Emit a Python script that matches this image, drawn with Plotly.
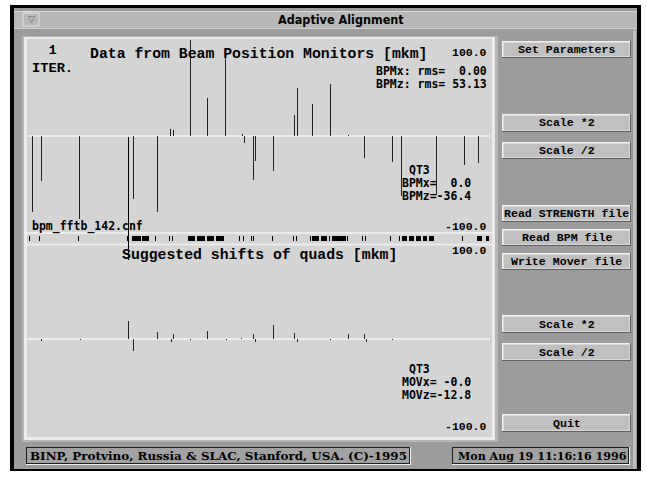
import plotly.graph_objects as go

W, H = 646, 477

# ---------------- data (positions along the line, values in mkm) ----------------
bpm_s = [3.7, 13, 51, 105, 129, 142, 145, 162, 179, 197, 214, 216, 225, 227, 245,
         266, 269, 284, 302, 320, 336, 364, 373, 408, 436, 450]
bpm_z = [-79, -47, -86, -66, -79, 7, 6, 120, 40, 83, 2, -7, -46, -26, -36,
         22, 50, 33, 54, 1.5, -23, -27, -63, -61, -30, -28]

quad_s = [13, 52, 100, 105, 129, 143, 145, 162, 179, 198, 213, 225, 227, 245,
          266, 269, 302, 320, 336, 338, 364]
quad_z = [-2, -1, 19, -13, 7, -3, 5, -1, 8.5, -1, 1.5, 5, -3, 15,
          6, -3, -1, 5, 5, -3, -1]

# beamline element layout strip: thin elements (positions) and long magnets (start / end)
thin_s = [1, 11, 50, 99, 127, 141, 144, 211, 215, 223, 225, 244, 265, 268, 282,
          301, 319, 334, 337, 362, 371, 405, 434]
mag_from = [103.5, 113.5, 159, 168, 178, 187, 283, 292, 303, 373, 380, 387, 394, 400, 448, 457]
mag_to = [112, 120.5, 166.5, 176.5, 185.5, 195, 290.5, 298.5, 317, 378.5, 385.5, 392.5, 398.5, 404, 453, 460]

cursor_s = 100
y_range = [-100, 100]
x_range = [-0.5, 461.5]


def X(px):
    return px / W


def Y(py):
    return 1 - py / H


shapes = []
annotations = []


def rect(x0, y0, x1, y1, fill, line=None, lw=0, layer="below"):
    shapes.append(dict(type="rect", xref="paper", yref="paper",
                       x0=X(x0), x1=X(x1), y0=Y(y1), y1=Y(y0),
                       fillcolor=fill, layer=layer,
                       line=dict(color=line or fill, width=lw)))


def hline(x0, x1, y, color, w=1, layer="below"):
    shapes.append(dict(type="line", xref="paper", yref="paper",
                       x0=X(x0), x1=X(x1), y0=Y(y), y1=Y(y),
                       line=dict(color=color, width=w), layer=layer))


def vline(x, y0, y1, color, w=1, layer="below"):
    shapes.append(dict(type="line", xref="paper", yref="paper",
                       x0=X(x), x1=X(x), y0=Y(y0), y1=Y(y1),
                       line=dict(color=color, width=w), layer=layer))


def txt(text, x, y, size, family="Liberation Mono", xanchor="left", bold=True, color="black", align="left"):
    t = text.replace(" ", "\u00a0")
    if bold:
        t = "<b>" + t + "</b>"
    annotations.append(dict(text=t, x=X(x), y=Y(y), xref="paper", yref="paper",
                            xanchor=xanchor, yanchor="middle", showarrow=False,
                            borderpad=0, align=align,
                            font=dict(family=family, size=size, color=color)))


BODY = "#9c9c9c"
PANEL = "#d4d4d4"

# window frame
rect(10, 5, 641, 471, "black")
rect(14, 8, 637, 469, BODY)
vline(634.5, 30, 469, "#bdbdbd", 3)
# title bar
rect(14, 11, 637, 28, "#b9b9b9")
hline(14, 637, 11.5, "#dadada", 1)
hline(14, 637, 28.5, "#d0d0d0", 1)
rect(23, 13, 39, 26, "#b9b9b9", "#e2e2e2", 1)
txt("\u25bd", 31, 19.5, 9, family="DejaVu Sans", xanchor="center", bold=False, color="#6a6a6a")
txt("Adaptive Alignment", 341, 19.5, 12.5, family="DejaVu Sans Condensed, DejaVu Sans",
    xanchor="center")

# main plot panel
rect(22, 36, 498, 442, "#b6b6b6")
rect(24, 37, 495, 440, "#ececec")
rect(27, 39, 492, 437, PANEL)
hline(27, 492, 233, "#ececec", 2)
hline(27, 492, 244.5, "#ececec", 2)

# buttons
buttons = [("Set Parameters", 41, 57), ("Scale *2", 114, 131), ("Scale /2", 142, 158),
           ("Read STRENGTH file", 205, 221), ("Read BPM file", 229, 245),
           ("Write Mover file", 253, 269), ("Scale *2", 315, 332), ("Scale /2", 343, 360),
           ("Quit", 414, 431)]
for label, y0, y1 in buttons:
    rect(502, y0, 631, y1 + 1, "#5e5e5e")
    rect(502, y0, 630, y1, "#f2f2f2")
    rect(503.5, y0 + 1.5, 629.5, y1 - 0.5, "#c0c0c0")
    txt(label, 566.5, (y0 + y1) / 2 + 0.5, 11.6, xanchor="center")

# status boxes
for x0, x1 in [(26, 411), (452, 630)]:
    rect(x0, 447, x1, 465, "#f0f0f0")
    rect(x0, 447, x1 - 1, 464, "#1e1e1e")
    rect(x0 + 1, 448, x1 - 2, 463, "#a2a2a2")
txt("BINP, Protvino, Russia & SLAC, Stanford, USA. (C)-1995", 29, 456, 11.95,
    family="DejaVu Serif")
txt("Mon Aug 19 11:16:16 1996", 457, 456, 11.1, family="DejaVu Serif")

# plot texts
TITLE = 14.8
SMALL = 11.5
SANS = "DejaVu Sans Mono"
txt("1<br>ITER.", 31, 60, 13.7, align="center")
txt("Data from Beam Position Monitors [mkm]", 88.5, 54, TITLE)
txt("100.0", 488, 52, SMALL, xanchor="right")
txt("BPMx: rms=  0.00", 488, 71, SMALL, family=SANS, xanchor="right")
txt("BPMz: rms= 53.13", 488, 84, SMALL, family=SANS, xanchor="right")
txt("QT3", 408, 170, SMALL, family=SANS)
txt("BPMx=  0.0", 401, 183, SMALL, family=SANS)
txt("BPMz=-36.4", 401, 196, SMALL, family=SANS)
txt("-100.0", 488, 227, SMALL, xanchor="right")
txt("bpm_fftb_142.cnf", 31, 227, SMALL, family=SANS)
txt("Suggested shifts of quads [mkm]", 121, 255, TITLE)
txt("100.0", 488, 250, SMALL, xanchor="right")
txt("QT3", 408, 369, SMALL, family=SANS)
txt("MOVx= -0.0", 401, 382, SMALL, family=SANS)
txt("MOVz=-12.8", 401, 395, SMALL, family=SANS)
txt("-100.0", 488, 426, SMALL, xanchor="right")

xd = [X(28), X(490)]
# cursor line through the selected element (spans both panels -> paper coords via the x scale)
cursor_px = xd[0] + (cursor_s - x_range[0]) / (x_range[1] - x_range[0]) * (xd[1] - xd[0])
shapes.append(dict(type="line", xref="paper", yref="paper", x0=cursor_px, x1=cursor_px,
                   y0=Y(137), y1=Y(260), line=dict(color="black", width=1), layer="above"))

BARC = "#222222"
fig = go.Figure()
fig.add_trace(go.Bar(x=bpm_s, y=bpm_z, width=0.9, marker=dict(color=BARC, line=dict(width=0)),
                     xaxis="x", yaxis="y", hoverinfo="skip", cliponaxis=True))
fig.add_trace(go.Bar(x=thin_s, y=[1] * len(thin_s), width=0.9,
                     marker=dict(color="black", line=dict(width=0)),
                     xaxis="x2", yaxis="y2", hoverinfo="skip"))
mag_c = [(a + b) / 2 for a, b in zip(mag_from, mag_to)]
mag_w = [b - a for a, b in zip(mag_from, mag_to)]
fig.add_trace(go.Bar(x=mag_c, y=[1] * len(mag_c), width=mag_w,
                     marker=dict(color="black", line=dict(width=0)),
                     xaxis="x2", yaxis="y2", hoverinfo="skip"))
fig.add_trace(go.Bar(x=quad_s, y=quad_z, width=0.9, marker=dict(color=BARC, line=dict(width=0)),
                     xaxis="x3", yaxis="y3", hoverinfo="skip", cliponaxis=True))

ax_common = dict(showgrid=False, showticklabels=False, ticks="", showline=False, fixedrange=True)
fig.update_layout(
    width=W, height=H, autosize=False,
    margin=dict(l=0, r=0, t=0, b=0, pad=0),
    paper_bgcolor="white", plot_bgcolor="rgba(0,0,0,0)",
    showlegend=False, bargap=0, barmode="overlay",
    xaxis=dict(domain=xd, range=x_range, anchor="y", zeroline=False, **ax_common),
    yaxis=dict(domain=[Y(232), Y(40)], range=y_range, anchor="x", zeroline=True,
               zerolinecolor="#eeeeee", zerolinewidth=2, **ax_common),
    xaxis2=dict(domain=xd, range=x_range, anchor="y2", zeroline=False, **ax_common),
    yaxis2=dict(domain=[Y(241), Y(236)], range=[0, 1], anchor="x2", zeroline=False, **ax_common),
    xaxis3=dict(domain=xd, range=x_range, anchor="y3", zeroline=False, **ax_common),
    yaxis3=dict(domain=[Y(433), Y(245)], range=y_range, anchor="x3", zeroline=True,
                zerolinecolor="#eeeeee", zerolinewidth=2, **ax_common),
    shapes=shapes, annotations=annotations,
)
fig.write_html("out.html", config={"displayModeBar": False, "staticPlot": True},
               post_script="document.body.style.margin='0';document.body.style.overflow='hidden';")
